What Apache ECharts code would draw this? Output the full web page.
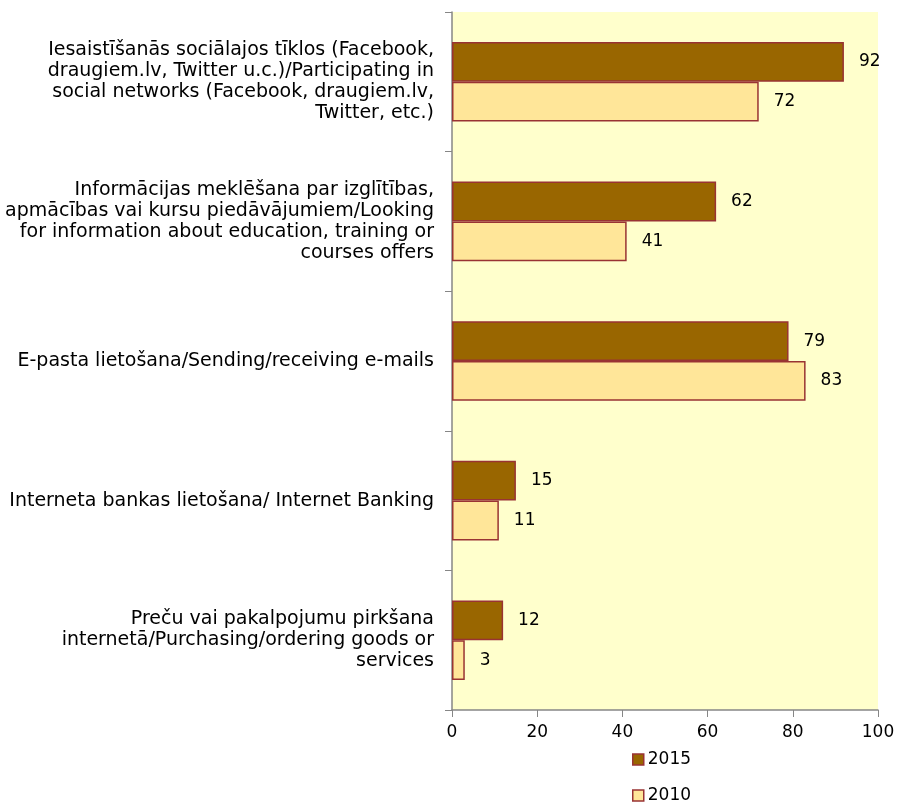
<!DOCTYPE html>
<html>
<head>
<meta charset="utf-8">
<script src="https://cdn.jsdelivr.net/npm/echarts@6/dist/echarts.min.js"></script>
<style>
  html, body { margin: 0; padding: 0; background: #ffffff; }
  #chart { width: 898px; height: 803px; }
</style>
</head>
<body>
<div id="chart"></div>
<script>
// Internet activities, share of users (%)
const categories = [
  'Iesaistīšanās sociālajos tīklos (Facebook,\ndraugiem.lv, Twitter u.c.)/Participating in\nsocial networks (Facebook, draugiem.lv,\nTwitter, etc.)',
  'Informācijas meklēšana par izglītības,\napmācības vai kursu piedāvājumiem/Looking\nfor information about education, training or\ncourses offers',
  'E-pasta lietošana/Sending/receiving e-mails',
  'Interneta bankas lietošana/ Internet Banking',
  'Preču vai pakalpojumu pirkšana\ninternetā/Purchasing/ordering goods or\nservices'
];
const values2015 = [92, 62, 79, 15, 12];
const values2010 = [72, 41, 83, 11, 3];
const xTicks = [0, 20, 40, 60, 80, 100];

const font = "'DejaVu Sans'";
const dark = '#996600';
const light = '#FFE699';
const edge = '#993333';

const chart = echarts.init(document.getElementById('chart'));

function legendFor(name, color, top) {
  return {
    orient: 'vertical', left: 632, top: top, padding: 0,
    itemWidth: 11, itemHeight: 11, itemGap: 4,
    textStyle: { fontSize: 17, color: '#000', fontFamily: font, padding: [0, 0, 0, -1] },
    data: [{ name: name, icon: 'rect', itemStyle: { color: color, borderColor: edge, borderWidth: 1.5 } }]
  };
}

chart.setOption({
  backgroundColor: '#ffffff',
  textStyle: { fontFamily: font },
  grid: {
    left: 452, right: 20, top: 12, bottom: 93,
    show: true, backgroundColor: '#FFFFCC', borderWidth: 0
  },
  legend: [
    legendFor('2015', dark, 751),
    legendFor('2010', light, 787)
  ],
  xAxis: {
    type: 'value',
    min: xTicks[0], max: xTicks[xTicks.length - 1], interval: 20,
    axisLine: { show: true, lineStyle: { color: '#868686', width: 1.5 } },
    axisTick: { show: true, length: 7, lineStyle: { color: '#868686' } },
    axisLabel: { fontSize: 17, color: '#000', margin: 14, fontFamily: font },
    splitLine: { show: false }
  },
  yAxis: {
    type: 'category',
    inverse: true,
    data: categories,
    axisLine: { show: true, lineStyle: { color: '#868686', width: 1.5 } },
    axisTick: { show: true, length: 7, lineStyle: { color: '#868686' } },
    axisLabel: {
      fontSize: 19, color: '#000', margin: 18, lineHeight: 21,
      align: 'right', fontFamily: font
    }
  },
  series: [
    {
      name: '2015', type: 'bar', data: values2015,
      barGap: '0%', barCategoryGap: '43%',
      itemStyle: { color: dark, borderColor: edge, borderWidth: 1.5 },
      label: { show: true, position: 'right', distance: 15, fontSize: 17, color: '#000', fontFamily: font }
    },
    {
      name: '2010', type: 'bar', data: values2010,
      barGap: '0%', barCategoryGap: '43%',
      itemStyle: { color: light, borderColor: edge, borderWidth: 1.5 },
      label: { show: true, position: 'right', distance: 15, fontSize: 17, color: '#000', fontFamily: font }
    }
  ]
});
</script>
</body>
</html>
